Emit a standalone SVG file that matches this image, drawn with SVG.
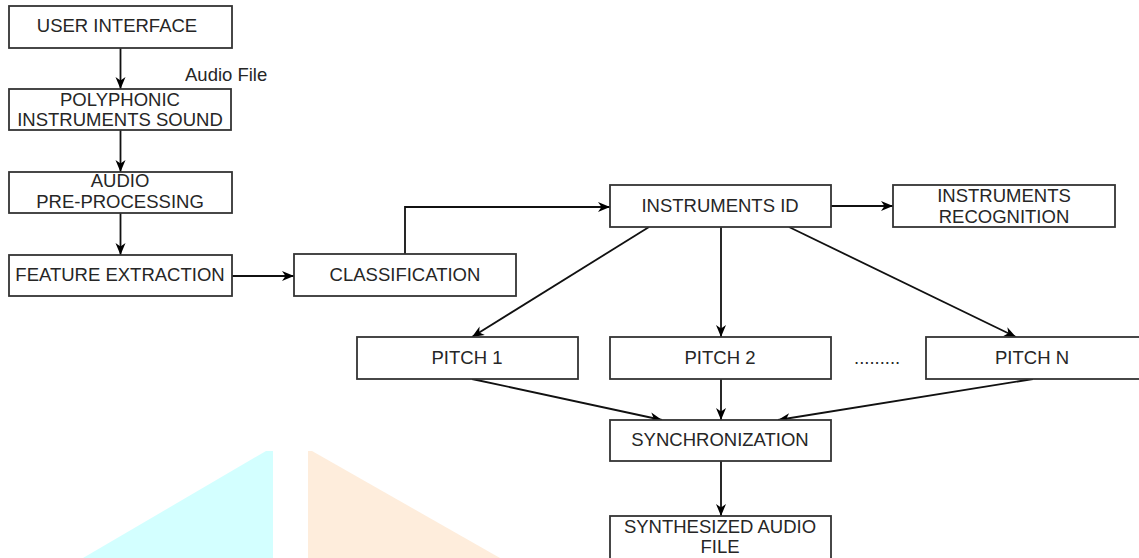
<svg xmlns="http://www.w3.org/2000/svg" width="1139" height="558" viewBox="0 0 1139 558">
<style>
.box{fill:#ffffff;stroke:#333333;stroke-width:1.8}
.t{font-family:"Liberation Sans",Arial,sans-serif;font-size:18.5px;fill:#262626;text-anchor:middle}
.lbl{font-family:"Liberation Sans",Arial,sans-serif;font-size:18.5px;fill:#262626}
.c{fill:none;stroke:#111111;stroke-width:1.8}
</style>
<defs>
<marker id="arr" markerWidth="14" markerHeight="12" refX="12" refY="6" orient="auto" markerUnits="userSpaceOnUse">
<path d="M0,1 L12,6 L0,11 L3.5,6 z" fill="#000000"/>
</marker>
</defs>
<rect width="1139" height="558" fill="#ffffff"/>
<g id="watermark">
<polygon points="83,558 266,451 273,451 273,558" fill="#d3ffff"/>
<polygon points="308,451 312,451 500,558 308,558" fill="#feeddc"/>
</g>
<g id="connectors">
<line class="c" x1="120.5" y1="48" x2="120.5" y2="89" marker-end="url(#arr)"/>
<line class="c" x1="120.5" y1="130" x2="120.5" y2="172" marker-end="url(#arr)"/>
<line class="c" x1="120.5" y1="213" x2="120.5" y2="255" marker-end="url(#arr)"/>
<line class="c" x1="232" y1="276" x2="294" y2="276" marker-end="url(#arr)"/>
<polyline class="c" points="405,254 405,207 610,207" marker-end="url(#arr)"/>
<line class="c" x1="831" y1="206" x2="893" y2="206" marker-end="url(#arr)"/>
<line class="c" x1="649" y1="227" x2="472" y2="337" marker-end="url(#arr)"/>
<line class="c" x1="721" y1="227" x2="721" y2="337" marker-end="url(#arr)"/>
<line class="c" x1="789" y1="227" x2="1016" y2="337" marker-end="url(#arr)"/>
<line class="c" x1="472" y1="379" x2="662" y2="420" marker-end="url(#arr)"/>
<line class="c" x1="721" y1="379" x2="721" y2="420" marker-end="url(#arr)"/>
<line class="c" x1="1033" y1="379" x2="778" y2="420" marker-end="url(#arr)"/>
<line class="c" x1="721" y1="461" x2="721" y2="516" marker-end="url(#arr)"/>
<text class="lbl" x="185" y="80.5">Audio File</text>
</g>
<g id="user-interface">
<rect class="box" x="9" y="6" width="223" height="42"/>
<text class="t" x="117" y="32">USER INTERFACE</text>
</g>
<g id="polyphonic">
<rect class="box" x="9" y="89" width="222" height="41"/>
<text class="t" x="120" y="106">POLYPHONIC</text>
<text class="t" x="120" y="126">INSTRUMENTS SOUND</text>
</g>
<g id="audio-preprocessing">
<rect class="box" x="9" y="172" width="223" height="41"/>
<text class="t" x="120" y="187">AUDIO</text>
<text class="t" x="120" y="208">PRE-PROCESSING</text>
</g>
<g id="feature-extraction">
<rect class="box" x="9" y="255" width="223" height="41"/>
<text class="t" x="120" y="281">FEATURE EXTRACTION</text>
</g>
<g id="classification">
<rect class="box" x="294" y="254" width="222" height="42"/>
<text class="t" x="405" y="281">CLASSIFICATION</text>
</g>
<g id="instruments-id">
<rect class="box" x="610" y="185" width="221" height="42"/>
<text class="t" x="720" y="212">INSTRUMENTS ID</text>
</g>
<g id="instruments-recognition">
<rect class="box" x="893" y="185" width="222" height="42"/>
<text class="t" x="1004" y="202">INSTRUMENTS</text>
<text class="t" x="1004" y="223">RECOGNITION</text>
</g>
<g id="pitch-1">
<rect class="box" x="357" y="337" width="221" height="42"/>
<text class="t" x="467" y="364">PITCH 1</text>
</g>
<g id="pitch-2">
<rect class="box" x="610" y="337" width="221" height="42"/>
<text class="t" x="720" y="364">PITCH 2</text>
</g>
<g id="ellipsis">
<text class="lbl" x="854" y="364">.........</text>
</g>
<g id="pitch-n">
<rect class="box" x="926" y="337" width="215" height="42"/>
<text class="t" x="1032" y="364">PITCH N</text>
</g>
<g id="synchronization">
<rect class="box" x="610" y="420" width="221" height="41"/>
<text class="t" x="720" y="446">SYNCHRONIZATION</text>
</g>
<g id="synthesized-audio-file">
<rect class="box" x="610" y="516" width="221" height="46"/>
<text class="t" x="720" y="533">SYNTHESIZED AUDIO</text>
<text class="t" x="720" y="553">FILE</text>
</g>
</svg>
